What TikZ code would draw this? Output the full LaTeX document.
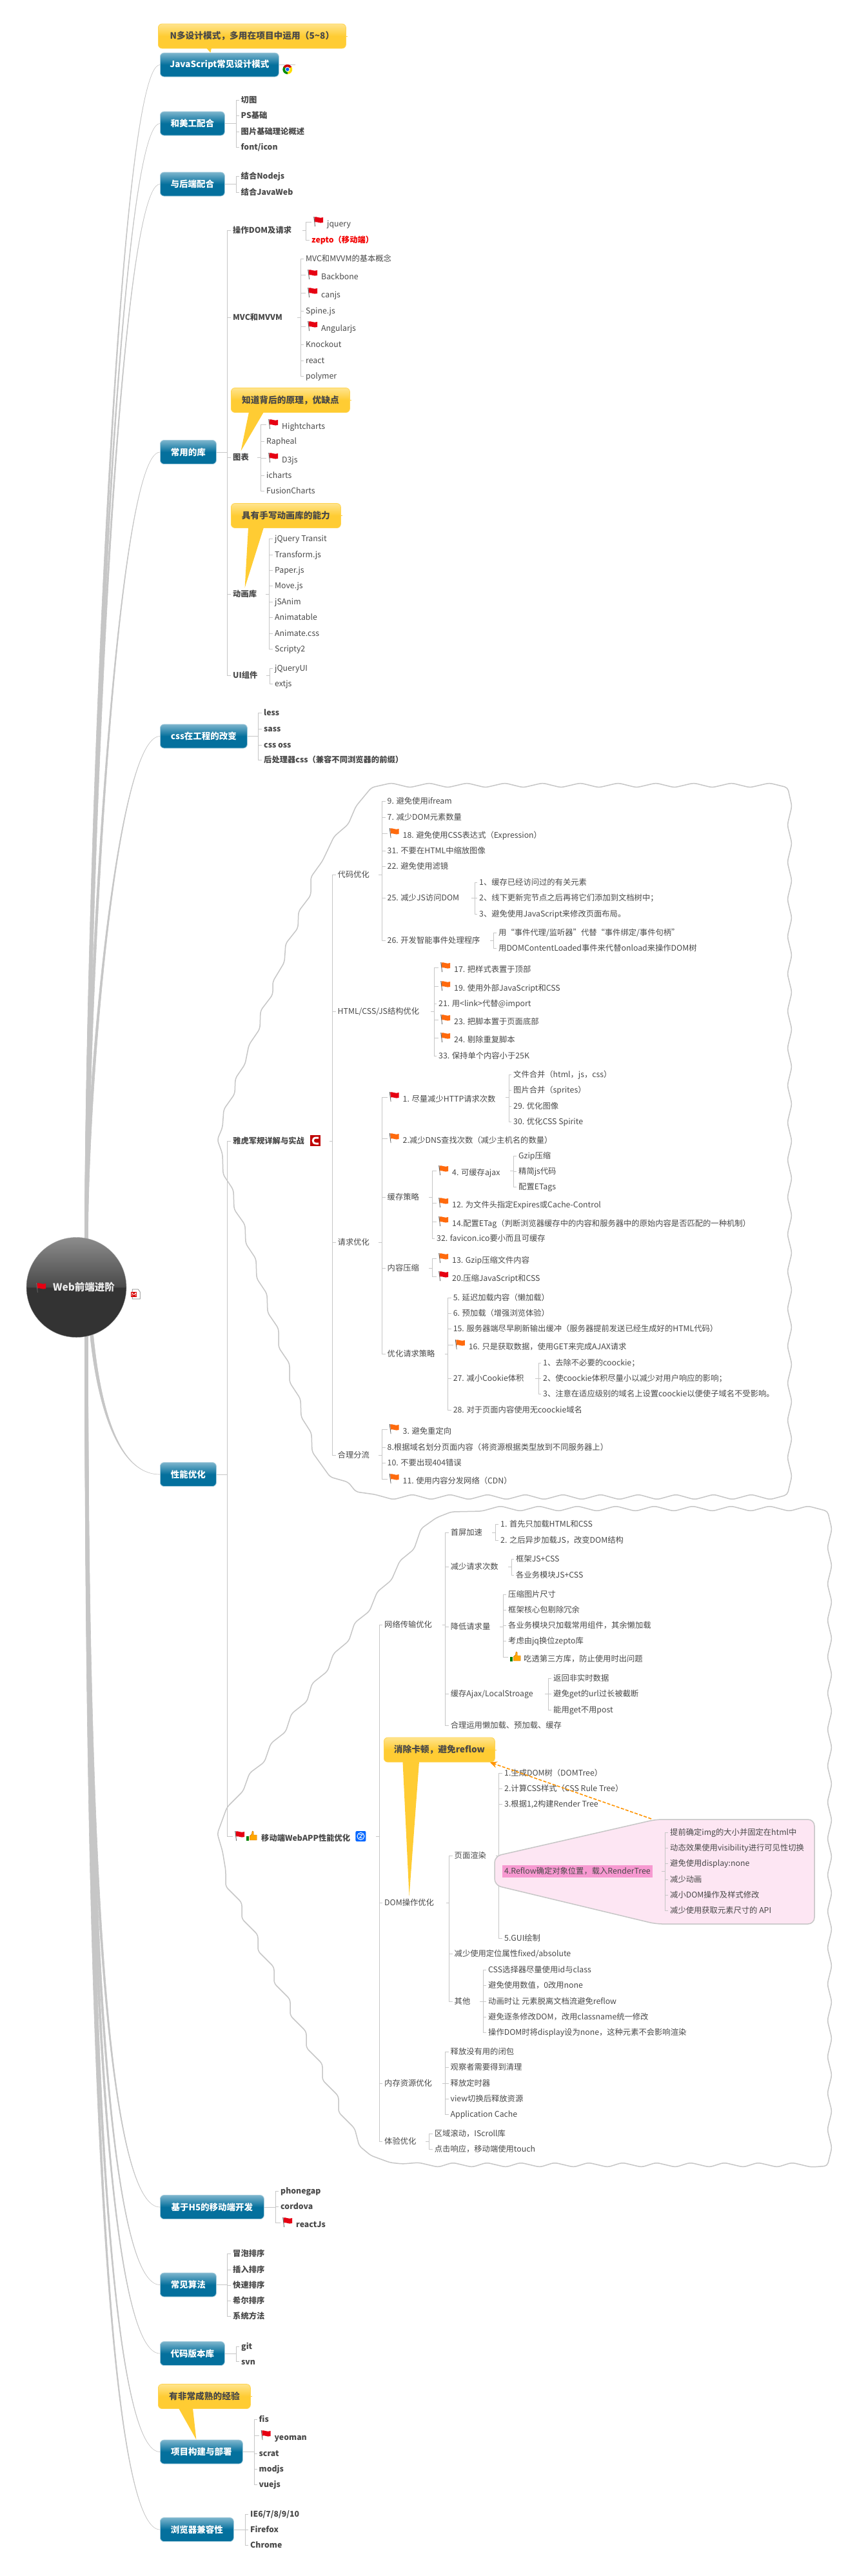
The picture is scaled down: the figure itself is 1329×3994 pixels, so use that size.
\documentclass[tikz,border=0pt]{standalone}
\usepackage{fontspec}
\setmainfont{Noto Sans CJK SC}
\usetikzlibrary{arrows.meta, calc, backgrounds}

\definecolor{linegray}{HTML}{C6C6C6}
\definecolor{inkgray}{HTML}{484848}
\definecolor{topicup}{HTML}{7DB5CD}
\definecolor{topicdown}{HTML}{04709D}
\definecolor{tipup}{HTML}{FFE48E}
\definecolor{tipdown}{HTML}{FFCC33}
\definecolor{rootup}{HTML}{8C8C8C}
\definecolor{rootmid}{HTML}{4A4A4A}
\definecolor{rootdown}{HTML}{333333}
\definecolor{flagred}{HTML}{E60012}
\definecolor{flagorange}{HTML}{FF6A0D}

\pgfdeclareverticalshading{topicfade}{100bp}{color(0bp)=(topicdown); color(50bp)=(topicdown); color(75bp)=(topicup); color(100bp)=(topicup)}
\pgfdeclareverticalshading{tipfade}{100bp}{color(0bp)=(tipdown); color(50bp)=(tipdown); color(75bp)=(tipup); color(100bp)=(tipup)}
\pgfdeclareverticalshading{rootfade}{100bp}{color(0bp)=(rootdown); color(50bp)=(rootdown); color(50.2bp)=(rootmid); color(75bp)=(rootup); color(100bp)=(rootup)}

\newcommand{\leaffont}{\fontsize{12.3}{14}\selectfont}

% icons
\tikzset{
  pics/banner/.style={code={
    \fill[gray!80!black] (3,-8) -- (4.2,-8) -- (5.8,7) -- (5,7) -- cycle;
    \fill[#1] (4.5,-7.5) .. controls (8,-9) and (10,-5) .. (18,-7) -- (18,1) .. controls (12,3) and (9,-1) .. (5.2,0.5) -- cycle;
  }},
  pics/thumb/.style={code={
    \fill[green!50!black] (3,0) rectangle (7,7);
    \fill[orange!70!yellow, draw=orange!80!black, line width=.4] (8,0) -- (11,-3) -- (12,-8) -- (14,-7) -- (14,-2) -- (19,-2) -- (19,6) -- (8,6) -- cycle;
  }},
  pics/wheel/.style={code={
    \fill[red!80!black] (0,0) -- (210:7.5) arc (210:330:7.5) -- cycle;
    \fill[yellow!80!orange] (0,0) -- (330:7.5) arc (330:450:7.5) -- cycle;
    \fill[green!55!black] (0,0) -- (90:7.5) arc (90:210:7.5) -- cycle;
    \fill[white] (0,0) circle (3.8);
    \fill[blue!60!cyan] (0,0) circle (2.7);
  }},
  pics/redc/.style={code={
    \fill[red!75!black] (0,0) rectangle (16,17);
    \draw[white, line width=3] (13,4) -- (9,4) .. controls (2.5,4) and (2.5,13) .. (9,13) -- (13,13);
  }},
  pics/bluedot/.style={code={
    \fill[blue!60!cyan, rounded corners=2] (0,0) rectangle (16,16);
    \draw[white, line width=1] (8,8) circle (5.5);
    \draw[white, line width=.9] (5.5,5.5) -- (10.5,5.5) -- (6,10.5) -- (10.5,10.5);
  }},
  pics/mapnote/.style={code={
    \draw[gray, fill=white, line width=.7] (2,0) -- (11,0) -- (14,4) -- (14,15) -- (2,15) -- cycle;
    \fill[red!85!black] (0,4) rectangle (9,12);
    \draw[white, line width=.8] (1.5,10.5) -- (1.5,5.5) -- (4.5,8.5) -- (7.5,5.5) -- (7.5,10.5);
  }}
}

% a parent's stub, its bar, and the kids y/style/text on that bar
\newcommand{\subleaves}[4]{%
  \coordinate (bar) at (#2,0);
  \draw[link] ($(bar |- #1.east)+(-5,0)$) -- (bar |- #1.east);
  \foreach \ypos/\kind/\txt [count=\i] in {#4}{
    \node[\kind] (#1-\i) at (#3,\ypos) {\txt};
    \draw[link] (#1-\i.west) -- (bar |- #1-\i.west) -- (bar |- #1.east);
  }
}
% same, with the stub running all the way from a topic box
\newcommand{\leaves}[4]{%
  \subleaves{#1}{#2}{#3}{#4}
  \draw[link] (#1.east) -- (bar |- #1.east);
}
% tapered branch from the root to a topic
\newcommand{\twig}[3]{%
  \path[twigline] ($(#1)+(-2.5,0)$) .. controls ($(#2)+(-2.5,0)$) and (bend |- #3.west) .. (#3.west)
    .. controls (bend |- #3.west) and ($(#2)+(2.5,0)$) .. ($(#1)+(2.5,0)$) -- cycle;
}
% pointer of a yellow note
\newcommand{\tail}[4]{%
  \fill[tipdown] ($(#1.south west)+(#2,-1)$) -- ($(#1.south west)+(#3,-1)$) -- (#4) -- cycle;
  \draw[tipdown] (#1.east) -- ++(2,0);
}

\begin{document}
\begin{tikzpicture}[x=1pt, y=-1pt,
  link/.style={draw=linegray, line width=0.9pt},
  edge/.style={draw=linegray, line width=1.5pt, rounded corners=5pt},
  twigline/.style={fill=linegray, draw=linegray, line width=0.6pt},
  hint/.style={-{Stealth[length=11pt, width=10pt]}, draw=orange!85!yellow, line width=1.6pt, dash pattern=on 5pt off 2.5pt},
  rootnode/.style={circle, minimum size=155pt, inner sep=0pt, shade, shading=rootfade, draw=gray!70,
                   text=white!92!black, font=\fontsize{15.5}{17}\selectfont\bfseries},
  topic/.style={anchor=west, rounded corners=6pt, minimum height=37pt, inner sep=0pt, shade, shading=topicfade,
                draw=topicup!70!white, line width=0.8pt, text=white, font=\fontsize{13.5}{16}\selectfont\bfseries},
  tipbox/.style={anchor=west, rounded corners=6pt, minimum height=38pt, inner sep=0pt, shade, shading=tipfade,
                 draw=tipdown!70!tipup, line width=0.8pt, text=inkgray, font=\fontsize{13.7}{16}\selectfont\bfseries},
  leaf/.style={anchor=west, inner xsep=3pt, inner ysep=3pt, text height=11pt, text depth=2pt, xshift=-3pt,
               text=inkgray, font=\leaffont},
  strong/.style={leaf, font=\leaffont\bfseries},
  hot/.style={strong, text=red!95!black},
  flagr/.style={leaf, xshift=3pt, yshift=3pt, text height=17pt, execute at begin node={\hspace{21pt}},
                path picture={\pic at (path picture bounding box.west) {banner=flagred};}},
  flago/.style={leaf, xshift=3pt, yshift=3pt, text height=17pt, execute at begin node={\hspace{21pt}},
                path picture={\pic at (path picture bounding box.west) {banner=flagorange};}},
  strongflag/.style={flagr, font=\leaffont\bfseries},
  thumbed/.style={leaf, xshift=3pt, yshift=3pt, text height=17pt, execute at begin node={\hspace{21pt}},
                path picture={\pic at (path picture bounding box.west) {thumb};}},
  webapp/.style={strong, xshift=3pt, yshift=3pt, text height=17pt, execute at begin node={\hspace{41pt}},
                path picture={\pic at (path picture bounding box.west) {banner=flagred};
                              \pic at ($(path picture bounding box.west)+(18,0)$) {thumb};}},
  marked/.style={leaf, fill=magenta!40!white},
]
\useasboundingbox (0,0) rectangle (1329,3994);

% --- Wavy boundaries ---
\draw[edge] (576,1221)
  \foreach \k in {0,...,10}{ -- (607+58.6*\k,1214) -- (635.5+58.6*\k,1221) }
  \foreach \k in {0,...,18}{ -- (1228,1250+57.7*\k) -- (1221,1279+57.7*\k) }
  \foreach \k in {0,...,10}{ -- (1194-58.4*\k,2325) -- (1165-58.4*\k,2317) }
  -- (552,2313) -- (540,2298) -- (512,2290) -- (484,2251) -- (483,2222) -- (467,2197) -- (466,2169)
  -- (449,2143) -- (449,2114) -- (432,2089) -- (432,2060) -- (415,2035) -- (414,2006) -- (398,1982)
  -- (397,1952) -- (381,1928) -- (380,1899) -- (363,1875) -- (362,1845) -- (346,1821) -- (345,1789)
  -- (337,1767) -- (345,1748) -- (347,1720) -- (364,1696) -- (365,1672) -- (380,1650) -- (386,1620)
  -- (403,1595) -- (404,1567) -- (423,1542) -- (423,1522) -- (441,1492) -- (443,1463) -- (462,1439)
  -- (463,1413) -- (482,1388) -- (482,1360) -- (500,1335) -- (518,1297) -- (540,1278) -- (552,1250) -- cycle;

\draw[edge] (747,2343)
  \foreach \k in {0,...,8}{ -- (776+59.6*\k,2335) -- (806.6+59.6*\k,2343) }
  \foreach \k in {0,...,17}{ -- (1290,2371+56.4*\k) -- (1283,2399.4+56.4*\k) }
  \foreach \k in {0,...,11}{ -- (1258-52.6*\k,3360) -- (1228-52.6*\k,3353) }
  -- (624,3355) -- (605,3353) -- (575,3342) -- (557,3327) -- (550,3300)
  \foreach \k in {7,6,...,0}{ -- (350+25*\k,2925+50*\k) -- (350+25*\k,2900+50*\k) }
  -- (345,2870) -- (337,2843) -- (352,2802) -- (377,2777) -- (387,2749) -- (410,2732) -- (420,2703)
  -- (443,2685) -- (452,2657) -- (476,2638) -- (484,2610) -- (508,2591) -- (517,2564) -- (541,2544)
  -- (550,2516) -- (573,2498) -- (585,2468) -- (607,2450) -- (620,2420) -- (642,2402) -- (653,2370)
  -- (677,2353) -- (700,2344) -- cycle;

% --- Root and topics ---
\node[rootnode] (root) at (118.5,1996) {\hspace{23pt}Web前端进阶};
\pic at ($(root.center)+(-65.5,1)$) {banner=flagred};
\pic at ($(root.east)+(7,3)$) {mapnote};

\node[topic, minimum width=184pt] (jsmode) at (248,100.5) {JavaScript常见设计模式};
\node[topic, minimum width=100pt] (art) at (248,191.5) {和美工配合};
\node[topic, minimum width=100pt] (server) at (248,285.5) {与后端配合};
\node[topic, minimum width=87pt] (lib) at (248,701) {常用的库};
\node[topic, minimum width=135pt] (cssx) at (248,1141.5) {css在工程的改变};
\node[topic, minimum width=87pt] (perf) at (248,2286) {性能优化};
\node[topic, minimum width=161pt] (mobile) at (248,3422) {基于H5的移动端开发};
\node[topic, minimum width=87pt] (algo) at (248,3542.5) {常见算法};
\node[topic, minimum width=100pt] (vcs) at (248,3649) {代码版本库};
\node[topic, minimum width=128pt] (build) at (248,3801.5) {项目构建与部署};
\node[topic, minimum width=114pt] (compat) at (248,3922) {浏览器兼容性};

% --- Branches from the root ---
\begin{scope}[on background layer]
  \coordinate (bend) at (180,0);
  \coordinate (rootN) at (134,1922);
  \coordinate (rootS) at (134,2070);
  \coordinate (rootT) at (142,2068);
  \twig{rootN}{134,1400}{jsmode}
  \twig{rootN}{134,1426}{art}
  \twig{rootN}{134,1453}{server}
  \twig{rootN}{134,1571}{lib}
  \twig{rootN}{134,1697}{cssx}
  \twig{rootT}{152,2170}{perf}
  \twig{rootS}{134,3038}{mobile}
  \twig{rootS}{134,3124}{algo}
  \twig{rootS}{134,3200}{vcs}
  \twig{rootS}{134,3309}{build}
  \twig{rootS}{134,3395}{compat}
\end{scope}

% --- Upper topics ---
\coordinate (jsend) at (458,100.5);
\draw[link] (jsmode) -- (jsend);
\pic at ($(jsmode.east)+(13,7)$) {wheel};

\leaves{art}{366}{373.5}{155/strong/{切图}, 179/strong/{PS基础}, 204/strong/{图片基础理论概述}, 228/strong/{font/icon}}
\leaves{server}{366}{373.5}{273/strong/{结合Nodejs}, 298/strong/{结合JavaWeb}}

\leaves{lib}{352}{361}{357/strong/{操作DOM及请求}, 492/strong/{MVC和MVVM}, 709/strong/{图表}, 921/strong/{动画库}, 1047/strong/{UI组件}}
\subleaves{lib-1}{474}{483}{347/flagr/{jquery}, 372/hot/{zepto（移动端）}}
\subleaves{lib-2}{466}{474}{401/leaf/{MVC和MVVM的基本概念}, 429/flagr/{Backbone}, 457/flagr/{canjs}, 482/leaf/{Spine.js},
  509/flagr/{Angularjs}, 534/leaf/{Knockout}, 559/leaf/{react}, 583/leaf/{polymer}}
\subleaves{lib-3}{404}{413}{661/flagr/{Hightcharts}, 684/leaf/{Rapheal}, 713/flagr/{D3js}, 737/leaf/{icharts}, 761/leaf/{FusionCharts}}
\subleaves{lib-4}{417.3}{426}{835/leaf/{jQuery Transit}, 860/leaf/{Transform.js}, 884/leaf/{Paper.js}, 908/leaf/{Move.js},
  933/leaf/{jSAnim}, 957/leaf/{Animatable}, 982/leaf/{Animate.css}, 1006/leaf/{Scripty2}}
\subleaves{lib-5}{418}{426}{1036/leaf/{jQueryUI}, 1060/leaf/{extjs}}

\leaves{cssx}{400}{409}{1105/strong/{less}, 1130/strong/{sass}, 1155/strong/{css oss}, 1178/strong/{后处理器css（兼容不同浏览器的前缀）}}

% --- Performance ---
\leaves{perf}{352}{361}{1769/strong/{雅虎军规详解与实战}, 2850/webapp/{移动端WebAPP性能优化}}
\pic at ($(perf-1.east)+(6,-9)$) {redc};
\pic at ($(perf-2.east)+(5,-8)$) {bluedot};

\subleaves{perf-1}{515.5}{523.5}{1356/leaf/{代码优化}, 1568/leaf/{HTML/CSS/JS结构优化}, 1926/leaf/{请求优化}, 2256/leaf/{合理分流}}
\subleaves{perf-1-1}{592}{600.5}{1242/leaf/{9. 避免使用ifream}, 1267/leaf/{7. 减少DOM元素数量}, 1295/flago/{18. 避免使用CSS表达式（Expression）},
  1319/leaf/{31. 不要在HTML中缩放图像}, 1343/leaf/{22. 避免使用滤镜}, 1392/leaf/{25. 减少JS访问DOM}, 1458/leaf/{26. 开发智能事件处理程序}}
\subleaves{perf-1-1-6}{736}{743}{1368/leaf/{1、缓存已经访问过的有关元素}, 1392/leaf/{2、线下更新完节点之后再将它们添加到文档树中；}, 1417/leaf/{3、避免使用JavaScript来修改页面布局。}}
\subleaves{perf-1-1-7}{765}{773}{1446/leaf/{用“事件代理/监听器”代替“事件绑定/事件句柄”}, 1470/leaf/{用DOMContentLoaded事件来代替onload来操作DOM树}}
\subleaves{perf-1-2}{673}{680}{1503/flago/{17. 把样式表置于顶部}, 1532/flago/{19. 使用外部JavaScript和CSS}, 1556/leaf/{21. 用<link>代替@import},
  1584/flago/{23. 把脚本置于页面底部}, 1612/flago/{24. 剔除重复脚本}, 1637/leaf/{33. 保持单个内容小于25K}}
\subleaves{perf-1-3}{592}{600.5}{1704/flagr/{1. 尽量减少HTTP请求次数}, 1768/flago/{2.减少DNS查找次数（减少主机名的数量）}, 1856/leaf/{缓存策略}, 1966/leaf/{内容压缩}, 2099/leaf/{优化请求策略}}
\subleaves{perf-1-3-1}{789}{796}{1666/leaf/{文件合并（html，js，css）}, 1690/leaf/{图片合并（sprites）}, 1715/leaf/{29. 优化图像}, 1739/leaf/{30. 优化CSS Spirite}}
\subleaves{perf-1-3-3}{670}{677}{1818/flago/{4. 可缓存ajax}, 1868/flago/{12. 为文件头指定Expires或Cache-Control},
  1897/flago/{14.配置ETag（判断浏览器缓存中的内容和服务器中的原始内容是否匹配的一种机制）}, 1920/leaf/{32. favicon.ico要小而且可缓存}}
\subleaves{perf-1-3-3-1}{796}{804}{1792/leaf/{Gzip压缩}, 1816/leaf/{精简js代码}, 1840/leaf/{配置ETags}}
\subleaves{perf-1-3-4}{670}{677}{1954/flago/{13. Gzip压缩文件内容}, 1982/flagr/{20.压缩JavaScript和CSS}}
\subleaves{perf-1-3-5}{694.6}{702.6}{2012/leaf/{5. 延迟加载内容（懒加载）}, 2036/leaf/{6. 预加载（增强浏览体验）},
  2060/leaf/{15. 服务器端尽早刷新输出缓冲（服务器提前发送已经生成好的HTML代码）}, 2088/flago/{16. 只是获取数据，使用GET来完成AJAX请求},
  2137/leaf/{27. 减小Cookie体积}, 2186/leaf/{28. 对于页面内容使用无coockie域名}}
\subleaves{perf-1-3-5-5}{835}{842}{2113/leaf/{1、去除不必要的coockie；}, 2137/leaf/{2、使coockie体积尽量小以减少对用户响应的影响；}, 2161/leaf/{3、注意在适应级别的域名上设置coockie以便使子域名不受影响。}}
\subleaves{perf-1-4}{592}{600.5}{2219/flago/{3. 避免重定向}, 2244/leaf/{8.根据域名划分页面内容（将资源根据类型放到不同服务器上）}, 2268/leaf/{10. 不要出现404错误}, 2296/flago/{11. 使用内容分发网络（CDN）}}

% --- Mobile WebAPP ---
\subleaves{perf-2}{588}{596}{2519/leaf/{网络传输优化}, 2950/leaf/{DOM操作优化}, 3230/leaf/{内存资源优化}, 3320/leaf/{体验优化}}
\subleaves{perf-2-1}{690.5}{698.6}{2376/leaf/{首屏加速}, 2429/leaf/{减少请求次数}, 2522/leaf/{降低请求量}, 2626/leaf/{缓存Ajax/LocalStroage}, 2675/leaf/{合理运用懒加载、预加载、缓存}}
\subleaves{perf-2-1-1}{768}{776}{2363/leaf/{1. 首先只加载HTML和CSS}, 2388/leaf/{2. 之后异步加载JS，改变DOM结构}}
\subleaves{perf-2-1-2}{793}{800}{2417/leaf/{框架JS+CSS}, 2442/leaf/{各业务模块JS+CSS}}
\subleaves{perf-2-1-3}{780}{788}{2472/leaf/{压缩图片尺寸}, 2496/leaf/{框架核心包剔除冗余}, 2520/leaf/{各业务模块只加载常用组件，其余懒加载},
  2544/leaf/{考虑由jq换位zepto库}, 2572/thumbed/{吃透第三方库，防止使用时出问题}}
\subleaves{perf-2-1-4}{850}{858}{2602/leaf/{返回非实时数据}, 2626/leaf/{避免get的url过长被截断}, 2651/leaf/{能用get不用post}}
\subleaves{perf-2-2}{696.5}{704.5}{2877/leaf/{页面渲染}, 3029/leaf/{减少使用定位属性fixed/absolute}, 3103/leaf/{其他}}
\subleaves{perf-2-2-1}{773.5}{782}{2749/leaf/{1.生成DOM树（DOMTree）}, 2773/leaf/{2.计算CSS样式（CSS Rule Tree）}, 2797/leaf/{3.根据1,2构建Render Tree}, 3005/leaf/{5.GUI绘制}}

% --- Reflow group ---
\draw[edge, fill=magenta!10!white, rounded corners=10pt] (767,2878) -- (1017,2821) -- (1263,2821) -- (1263,2983) -- (1017,2983) -- (767,2923) -- cycle;
\node[marked] (reflow) at (782,2901) {4.Reflow确定对象位置，载入RenderTree};
\subleaves{reflow}{1031}{1039}{2841/leaf/{提前确定img的大小并固定在html中}, 2865/leaf/{动态效果使用visibility进行可见性切换}, 2889/leaf/{避免使用display:none},
  2914/leaf/{减少动画}, 2938/leaf/{减小DOM操作及样式修改}, 2962/leaf/{减少使用获取元素尺寸的 API}}

\subleaves{perf-2-2-3}{749}{757}{3054/leaf/{CSS选择器尽量使用id与class}, 3078/leaf/{避免使用数值，0改用none}, 3103/leaf/{动画时让 元素脱离文档流避免reflow},
  3127/leaf/{避免逐条修改DOM，改用classname统一修改}, 3151/leaf/{操作DOM时将display设为none，这种元素不会影响渲染}}
\subleaves{perf-2-3}{690.6}{698.5}{3181/leaf/{释放没有用的闭包}, 3205/leaf/{观察者需要得到清理}, 3230/leaf/{释放定时器}, 3254/leaf/{view切换后释放资源}, 3278/leaf/{Application Cache}}
\subleaves{perf-2-4}{665}{673.7}{3308/leaf/{区域滚动，IScroll库}, 3332/leaf/{点击响应，移动端使用touch}}

% --- Lower topics ---
\leaves{mobile}{427}{435}{3397/strong/{phonegap}, 3421/strong/{cordova}, 3449/strongflag/{reactJs}}
\leaves{algo}{352}{361}{3494/strong/{冒泡排序}, 3519/strong/{插入排序}, 3543/strong/{快速排序}, 3567/strong/{希尔排序}, 3591/strong/{系统方法}}
\leaves{vcs}{366}{374}{3638/strong/{git}, 3661.5/strong/{svn}}
\leaves{build}{394}{401.5}{3751/strong/{fis}, 3779/strongflag/{yeoman}, 3804/strong/{scrat}, 3828/strong/{modjs}, 3852/strong/{vuejs}}
\leaves{compat}{380}{388}{3898/strong/{IE6/7/8/9/10}, 3922/strong/{Firefox}, 3946/strong/{Chrome}}

% --- Yellow notes ---
\node[tipbox, minimum width=291pt] (tipPatterns) at (245,56) {N多设计模式，多用在项目中运用（5\textasciitilde8）};
\tail{tipPatterns}{75}{83}{$(jsmode.north)+(-14,0)$}
\node[tipbox, minimum width=184pt] (tipCharts) at (358,620.5) {知道背后的原理，优缺点};
\tail{tipCharts}{28}{51}{lib-3.north}
\node[tipbox, minimum width=170pt] (tipAnim) at (358,799.5) {具有手写动画库的能力};
\tail{tipAnim}{27}{51}{lib-4.north}
\node[tipbox, minimum width=172pt] (tipReflow) at (595,2713) {消除卡顿，避免reflow};
\tail{tipReflow}{29.5}{55}{perf-2-2.north}
\node[tipbox, minimum width=143pt] (tipBuild) at (245,3715.5) {有非常成熟的经验};
\tail{tipBuild}{32}{54}{$(build.north)+(-8,0)$}

% --- Relationship ---
\coordinate (wraptop) at (1010,2820);
\draw[hint] (wraptop) -- ($(tipReflow.south east)+(-8,0)$);

\end{tikzpicture}
\end{document}
